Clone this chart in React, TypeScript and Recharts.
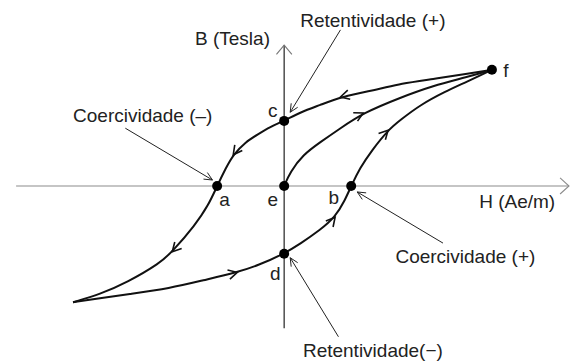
import { ComposedChart, Line, Scatter, XAxis, YAxis } from 'recharts'

const W = 571
const CH = 362
const H_DOMAIN: [number, number] = [-4.24, 4.28]
const B_DOMAIN: [number, number] = [-2.65, 2.8]
const KX = W / (H_DOMAIN[1] - H_DOMAIN[0])
const KY = CH / (B_DOMAIN[1] - B_DOMAIN[0])

type Pt = { h: number; b: number }
const toPts = (arr: number[][]): Pt[] => arr.map(([h, b]) => ({ h, b }))

// ramo descendente f -> c -> a -> ponta (guardado com H crescente)
const upperBranch = [
  [-3.15, -1.75], [-2.75, -1.63], [-2.34, -1.45], [-1.85, -1.16], [-1.67, -0.99],
  [-1.33, -0.59], [-1.13, -0.29], [-1.0, 0], [-0.87, 0.27], [-0.76, 0.47],
  [-0.58, 0.66], [-0.39, 0.78], [-0.21, 0.89], [0, 0.98], [0.24, 1.11],
  [0.54, 1.22], [0.84, 1.34], [1.43, 1.46], [1.73, 1.54], [2.22, 1.61],
  [2.73, 1.69], [3.1, 1.75],
]
const upperArrows = [4, 9, 16]

// ramo ascendente ponta -> d -> b -> f
const lowerBranch = [
  [-3.15, -1.75], [-2.75, -1.69], [-2.34, -1.63], [-1.7, -1.54], [-1.21, -1.42],
  [-0.7, -1.3], [-0.4, -1.2], [0, -1.02], [0.24, -0.87], [0.54, -0.66],
  [0.76, -0.47], [0.91, -0.21], [1.0, 0], [1.13, 0.27], [1.31, 0.54],
  [1.55, 0.84], [1.73, 0.99], [2.03, 1.22], [2.4, 1.42], [2.73, 1.57], [3.1, 1.75],
]
const lowerArrows = [5, 10, 15]

// curva de magnetização inicial e -> f
const initialCurve = [
  [0, 0], [0.09, 0.21], [0.28, 0.47], [0.54, 0.66], [0.84, 0.87],
  [1.18, 1.1], [1.73, 1.33], [2.22, 1.51], [2.73, 1.64], [3.1, 1.75],
]
const initialArrows = [5]

const keyPoints = [
  { h: -1.0, b: 0 }, { h: 1.0, b: 0 }, { h: 0, b: 0.98 },
  { h: 0, b: -1.02 }, { h: 0, b: 0 }, { h: 3.1, b: 1.75 },
]

const hAxis = [[-4.0, 0], [4.25, 0]]
const bAxis = [[0, -2.14], [0, 2.12]]

const pointers = [
  [[-2.37, 0.87], [-1.07, 0.09]],
  [[0.84, 2.35], [0.09, 1.11]],
  [[2.37, -0.86], [1.09, -0.09]],
  [[0.81, -2.27], [0.09, -1.08]],
]

const labels = [
  { h: -1.33, b: 2.12, text: 'B (Tesla)' },
  { h: -3.15, b: 0.96, text: 'Coercividade (–)' },
  { h: 0.24, b: 2.39, text: 'Retentividade (+)' },
  { h: 2.91, b: -0.33, text: 'H (Ae/m)' },
  { h: 1.66, b: -1.16, text: 'Coercividade (+)' },
  { h: 0.28, b: -2.58, text: 'Retentividade(−)' },
  { h: -0.24, b: 1.04, text: 'c' },
  { h: 3.27, b: 1.64, text: 'f' },
  { h: -0.97, b: -0.3, text: 'a' },
  { h: -0.25, b: -0.3, text: 'e' },
  { h: 0.66, b: -0.27, text: 'b' },
  { h: -0.21, b: -1.42, text: 'd' },
]

function chevron(x: number, y: number, ux: number, uy: number, len: number, ang: number) {
  const c = Math.cos(ang)
  const s = Math.sin(ang)
  const x1 = x - len * (ux * c - uy * s)
  const y1 = y - len * (ux * s + uy * c)
  const x2 = x - len * (ux * c + uy * s)
  const y2 = y - len * (-ux * s + uy * c)
  return `M${x1},${y1}L${x},${y}L${x2},${y2}`
}

const arrowDot = (pts: Pt[], marks: number[], dir: number, len: number, ang: number, color: string, width: number) =>
  (props: any) => {
    const { cx, cy, index } = props
    if (!marks.includes(index) || cx == null || cy == null) return <g key={`n${index}`} />
    const prev = pts[Math.max(0, index - 1)]
    const next = pts[Math.min(pts.length - 1, index + 1)]
    const dx = (next.h - prev.h) * KX * dir
    const dy = -(next.b - prev.b) * KY * dir
    const n = Math.hypot(dx, dy) || 1
    return (
      <path key={`a${index}`} d={chevron(cx, cy, dx / n, dy / n, len, ang)}
        fill="none" stroke={color} strokeWidth={width} strokeLinejoin="miter" />
    )
  }

const FONT = '"Liberation Sans", Arial, sans-serif'
const deg = (d: number) => (d * Math.PI) / 180

export default function App() {
  const upper = toPts(upperBranch)
  const lower = toPts(lowerBranch)
  const initial = toPts(initialCurve)
  const hx = toPts(hAxis)
  const bx = toPts(bAxis)

  return (
    <div style={{ position: 'absolute', left: 0, top: 0, width: W, height: CH, background: '#fff' }}>
      <ComposedChart width={W} height={CH} margin={{ top: 0, right: 0, bottom: 0, left: 0 }}>
        <XAxis type="number" dataKey="h" domain={H_DOMAIN} allowDataOverflow hide />
        <YAxis type="number" dataKey="b" domain={B_DOMAIN} allowDataOverflow hide />

        {/* eixos */}
        <Line data={hx} dataKey="b" type="linear" stroke="#8c8c8c" strokeWidth={1.2} isAnimationActive={false}
          activeDot={false} legendType="none" dot={arrowDot(hx, [1], 1, 12, deg(42), '#8c8c8c', 1.1)} />
        <Line data={bx} dataKey="b" type="linear" stroke="#333" strokeWidth={1.3} isAnimationActive={false}
          activeDot={false} legendType="none" dot={arrowDot(bx, [1], 1, 12, deg(40), '#777', 1.1)} />

        {/* laço de histerese */}
        <Line data={upper} dataKey="b" type="basis" stroke="#111" strokeWidth={2} isAnimationActive={false}
          activeDot={false} legendType="none" dot={arrowDot(upper, upperArrows, -1, 10, deg(28), '#111', 1.6)} />
        <Line data={lower} dataKey="b" type="basis" stroke="#111" strokeWidth={2} isAnimationActive={false}
          activeDot={false} legendType="none" dot={arrowDot(lower, lowerArrows, 1, 10, deg(28), '#111', 1.6)} />
        <Line data={initial} dataKey="b" type="basis" stroke="#111" strokeWidth={2} isAnimationActive={false}
          activeDot={false} legendType="none" dot={arrowDot(initial, initialArrows, 1, 10, deg(28), '#111', 1.6)} />

        {/* setas das anotações */}
        {pointers.map((seg, i) => {
          const pts = toPts(seg)
          return (
            <Line key={`p${i}`} data={pts} dataKey="b" type="linear" stroke="#222" strokeWidth={1} isAnimationActive={false}
              activeDot={false} legendType="none" dot={arrowDot(pts, [1], 1, 9, deg(25), '#222', 1)} />
          )
        })}

        <Scatter data={keyPoints} isAnimationActive={false} legendType="none"
          shape={(p: any) => <circle cx={p.cx} cy={p.cy} r={5} fill="#000" />} />

        <Scatter data={labels} isAnimationActive={false} legendType="none"
          shape={(p: any) => (
            <text x={p.cx} y={p.cy} fontFamily={FONT} fontSize={19} fill="#222" textAnchor="start">
              {p.payload.text}
            </text>
          )} />
      </ComposedChart>
    </div>
  )
}
